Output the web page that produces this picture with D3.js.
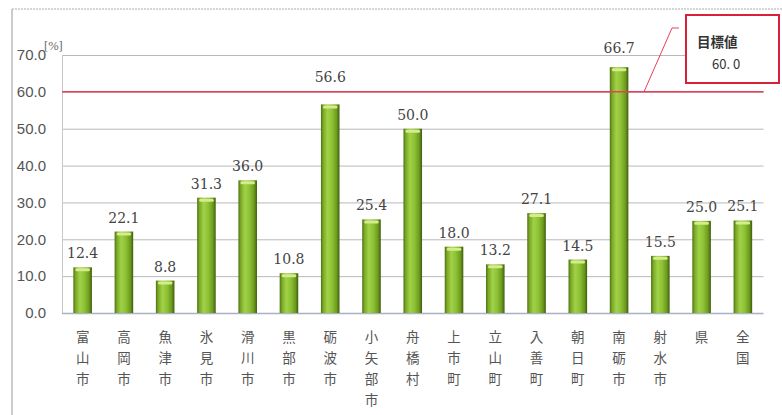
<!DOCTYPE html>
<html><head><meta charset="utf-8">
<script src="https://cdn.jsdelivr.net/npm/d3@7"></script>
<style>body{margin:0;background:#fff;}svg{display:block;}</style>
</head><body>
<svg id="c" width="782" height="415"></svg>
<script>
const categories = ["富山市","高岡市","魚津市","氷見市","滑川市","黒部市","砺波市","小矢部市","舟橋村","上市町","立山町","入善町","朝日町","南砺市","射水市","県","全国"];
const values = [12.4,22.1,8.8,31.3,36.0,10.8,56.6,25.4,50.0,18.0,13.2,27.1,14.5,66.7,15.5,25.0,25.1];
const yTicks = [0,10,20,30,40,50,60,70];
const target = 60.0;
const targetLabel = "目標値";
const targetValueLabel = "60. 0";
const unitLabel = "[%]";

const svg = d3.select("#c");
const m = {left:62, right:763.5, top:55, bottom:313};
const x = d3.scaleBand().domain(categories).range([m.left, m.right]).paddingInner(0.55).paddingOuter(0.275);
const y = d3.scaleLinear().domain([0,70]).range([m.bottom, m.top]);

const defs = svg.append("defs");
const g = defs.append("linearGradient").attr("id","bar").attr("x1","0").attr("x2","1").attr("y1","0").attr("y2","0");
[[0,"#4f7012"],[0.12,"#78a825"],[0.35,"#a2d148"],[0.6,"#8dc234"],[0.85,"#6c9a1e"],[1,"#3f5c0c"]].forEach(s=>g.append("stop").attr("offset",s[0]).attr("stop-color",s[1]));

// frame
svg.append("line").attr("x1",12).attr("x2",782).attr("y1",9).attr("y2",9).attr("stroke","#aaa").attr("stroke-dasharray","2,1");
svg.append("line").attr("x1",12).attr("x2",12).attr("y1",9).attr("y2",415).attr("stroke","#bbb").attr("stroke-width",1.5);

// gridlines
svg.append("g").selectAll("line").data(yTicks.filter(d=>d>0)).join("line")
  .attr("x1",m.left).attr("x2",m.right).attr("y1",d=>y(d)+0.5).attr("y2",d=>y(d)+0.5)
  .attr("stroke","#b8b8b8").attr("stroke-width",1);
svg.append("line").attr("x1",m.left+0.5).attr("x2",m.left+0.5).attr("y1",m.top).attr("y2",m.bottom).attr("stroke","#c8c8c8");
svg.append("line").attr("x1",m.left).attr("x2",m.right).attr("y1",m.bottom+0.5).attr("y2",m.bottom+0.5).attr("stroke","#aab0c8").attr("stroke-width",1.5);

// y axis labels
const yAxis = d3.axisLeft(y).tickValues(yTicks).tickFormat(d3.format(".1f")).tickSize(0).tickPadding(16);
const ya = svg.append("g").attr("transform",`translate(${m.left},0)`).call(yAxis);
ya.select(".domain").remove();
ya.selectAll("text").attr("font-family","'Liberation Sans', Arial, sans-serif").attr("font-size",15).attr("fill","#555");
svg.append("text").attr("x",44).attr("y",50).text(unitLabel).attr("font-family","'Liberation Serif', serif").attr("font-size",12.5).attr("fill","#666");

// bars
const bars = svg.append("g").selectAll("g").data(categories.map((c,i)=>({c,v:values[i]}))).join("g");
bars.append("rect").attr("x",d=>x(d.c)).attr("width",x.bandwidth()).attr("y",d=>y(d.v)).attr("height",d=>y(0)-y(d.v)).attr("fill","url(#bar)");
bars.append("rect").attr("x",d=>x(d.c)+2).attr("width",x.bandwidth()-4).attr("y",d=>y(d.v)+1).attr("height",3).attr("fill","#d4ec8c").attr("rx",1.5);
// label placement: move above the target line if it would collide with it
function labelY(v){
  let b = y(v) - 9;
  const ty = y(target);
  if (b > ty - 2 && b - 12 < ty + 2) b = ty - 10;
  if (v > target) b = y(v) - 14;
  return b;
}
bars.append("text").attr("x",d=>x(d.c)+x.bandwidth()/2).attr("y",d=>labelY(d.v)).attr("text-anchor","middle")
  .text(d=>d.v.toFixed(1)).attr("font-family","'DejaVu Serif', serif").attr("font-size",14).attr("fill","#444");

// category labels (vertical stacked)
const cl = svg.append("g").selectAll("text").data(categories).join("text")
  .attr("text-anchor","middle").attr("font-family","'Noto Sans CJK JP', sans-serif").attr("font-size",13.5).attr("fill","#555");
cl.each(function(d){
  const t = d3.select(this);
  Array.from(d).forEach((ch,i)=>{
    t.append("tspan").attr("x",x(d)+x.bandwidth()/2).attr("y",342+i*21).text(ch);
  });
});

// target line
svg.append("line").attr("x1",m.left).attr("x2",m.right).attr("y1",y(target)).attr("y2",y(target)).attr("stroke","#e8405a").attr("stroke-width",1.5);
svg.append("polyline").attr("points",`644,${y(target)} 672,28 679,28`).attr("fill","none").attr("stroke","#e8405a").attr("stroke-width",1);
svg.append("rect").attr("x",686).attr("y",15).attr("width",93).attr("height",68).attr("fill","#fff").attr("stroke","#d8203a").attr("stroke-width",2);
svg.append("text").attr("x",697).attr("y",47).text(targetLabel).attr("font-family","'Noto Sans CJK JP', sans-serif").attr("font-weight","bold").attr("font-size",13.5).attr("fill","#333");
svg.append("text").attr("x",712).attr("y",69).text(targetValueLabel).attr("font-family","'Noto Sans CJK JP', sans-serif").attr("font-size",13).attr("fill","#333");
</script>
</body></html>
